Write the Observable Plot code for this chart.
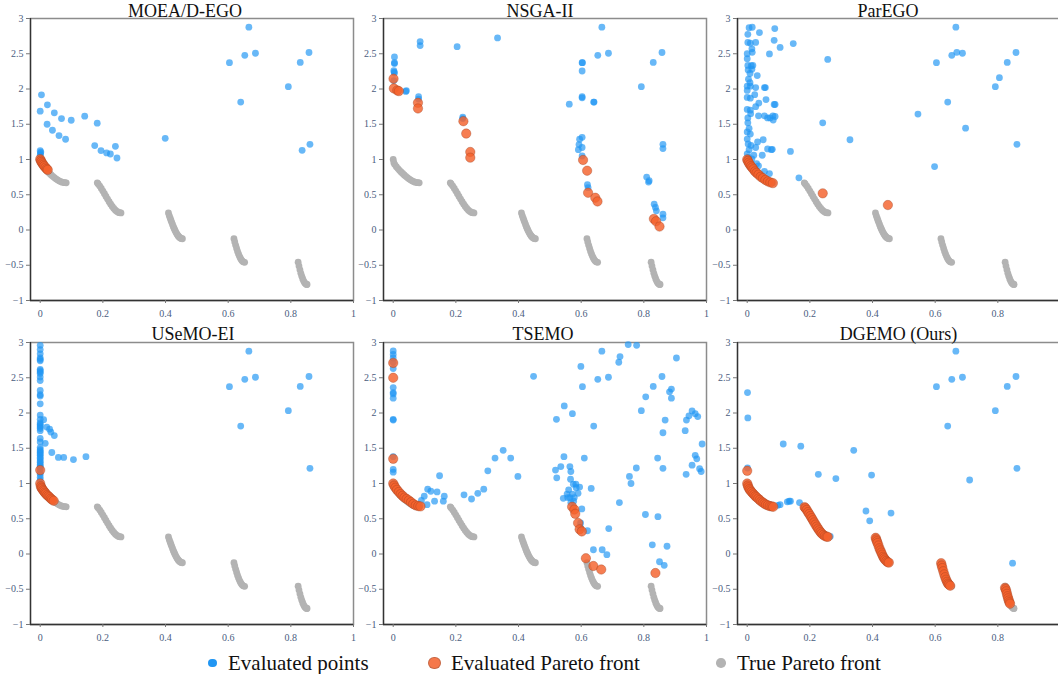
<!DOCTYPE html>
<html>
<head>
<meta charset="utf-8">
<script src="https://cdn.jsdelivr.net/npm/d3@7"></script>
<script src="https://cdn.jsdelivr.net/npm/@observablehq/plot@0.6"></script>
<style>
  html, body { margin: 0; padding: 0; background: #fff; overflow: hidden; }
  #root { position: relative; width: 1058px; height: 674px; overflow: hidden; font-family: "Liberation Serif", "Times New Roman", Times, "DejaVu Serif", serif; }
  #root svg, #root svg text { font-family: "Liberation Serif", "Times New Roman", Times, "DejaVu Serif", serif !important; }
  .panel { position: absolute; }
  .title { position: absolute; font-size: 18px; color: #111; white-space: nowrap; transform: translateX(-50%); line-height: 1; font-family: "Liberation Serif", "Times New Roman", Times, serif; }
  .leg { position: absolute; font-size: 21px; color: #111; white-space: nowrap; line-height: 1; font-family: "Liberation Serif", "Times New Roman", Times, serif; }
  .sw { position: absolute; border-radius: 50%; }
</style>
</head>
<body>
<div id="root"></div>
<script>
// ---------- data ----------
const titles = ["MOEA/D-EGO", "NSGA-II", "ParEGO", "USeMO-EI", "TSEMO", "DGEMO (Ours)"];
const legendLabels = ["Evaluated points", "Evaluated Pareto front", "True Pareto front"];
const xTicks = [0, 0.2, 0.4, 0.6, 0.8, 1];
const xTicksRightColumn = [0, 0.2, 0.4, 0.6, 0.8]; // the "1" label falls outside the picture there
const yTicks = [-1, -0.5, 0, 0.5, 1, 1.5, 2, 2.5, 3];

// True Pareto front (five disconnected pieces), as seen in every panel
const trueFront = [
  [0,1],[0.002,0.955],[0.005,0.9285],[0.01,0.8969],[0.015,0.8707],[0.02,0.8468],[0.025,0.8242],[0.03,0.8025],
  [0.035,0.7817],[0.04,0.762],[0.045,0.7434],[0.05,0.7264],[0.055,0.7112],[0.06,0.698],[0.065,0.6871],
  [0.07,0.6788],[0.075,0.6731],[0.079,0.671],[0.083,0.6695],
  [0.1822,0.6698],[0.185,0.6539],[0.19,0.6228],[0.195,0.5889],[0.2,0.5528],[0.205,0.5151],[0.21,0.4768],
  [0.215,0.4387],[0.22,0.4017],[0.225,0.3666],[0.23,0.3343],[0.235,0.3058],[0.24,0.2818],[0.245,0.263],
  [0.25,0.25],[0.2535,0.2455],[0.2578,0.2423],
  [0.4093,0.2424],[0.412,0.2032],[0.415,0.1674],[0.4175,0.1358],[0.42,0.105],[0.4225,0.0756],[0.425,0.0476],
  [0.4275,0.0211],[0.43,-0.0036],[0.4325,-0.0264],[0.435,-0.0471],[0.4375,-0.0656],[0.44,-0.0818],
  [0.4425,-0.0955],[0.445,-0.1066],[0.4475,-0.1151],[0.45,-0.1208],[0.4539,-0.1238],
  [0.6184,-0.1243],[0.621,-0.1686],[0.624,-0.217],[0.627,-0.2621],[0.63,-0.3034],[0.633,-0.3404],
  [0.636,-0.373],[0.639,-0.4006],[0.642,-0.423],[0.645,-0.4402],[0.648,-0.4517],[0.6525,-0.4583],
  [0.8233,-0.4577],[0.826,-0.511],[0.829,-0.5656],[0.832,-0.6146],[0.835,-0.6578],[0.838,-0.6946],
  [0.841,-0.7247],[0.844,-0.7478],[0.847,-0.7636],[0.85,-0.772],[0.8518,-0.7733]
];

// initial samples shared by all methods
const initialPoints = [
  [0.604,2.374],[0.653,2.478],[0.666,2.877],[0.687,2.507],[0.640,1.814],
  [0.792,2.033],[0.830,2.377],[0.858,2.518],[0.861,1.215]
];

const moeadEval = [
  [0.836,1.130],[0.399,1.301],[0.004,1.918],[0,1.686],[0.023,1.776],[0.045,1.662],[0.068,1.581],
  [0.099,1.557],[0.142,1.614],[0.182,1.515],[0.022,1.5],[0.039,1.415],[0.06,1.339],[0.081,1.287],
  [0.174,1.197],[0.194,1.126],[0.212,1.093],[0.224,1.078],[0.24,1.187],[0.245,1.021],
  [0,1.125],[0.002,1.105],[0.001,1.085],[0,1.06]
];
const moeadPareto = [
  [0,1.005],[0.002,0.985],[0.004,0.965],[0.007,0.945],[0.01,0.925],[0.013,0.905],[0.017,0.885],
  [0.021,0.865],[0.024,0.853]
];

const nsgaEval = [
  [0.004,2.454],[0.004,2.374],[0.004,2.36],[0.002,2.26],[0.004,2.226],[0.003,2.24],[0.002,2.12],
  [0.042,1.975],[0.04,1.965],[0.086,2.673],[0.086,2.616],[0.081,1.89],[0.081,1.857],[0.204,2.601],
  [0.333,2.725],[0.222,1.6],[0.222,1.58],[0.562,1.785],[0.603,2.374],[0.603,2.255],[0.603,1.89],
  [0.603,1.875],[0.641,1.814],[0.595,1.287],[0.593,1.211],[0.591,1.14],[0.603,1.315],[0.603,1.17],
  [0.603,1.05],[0.62,0.642],[0.622,0.6],[0.809,0.751],[0.815,0.68],[0.817,0.7],[0.833,0.367],
  [0.837,0.32],[0.84,0.272],[0.861,0.224],[0.861,0.172],[0.861,1.155]
];
const nsgaPareto = [
  [0.001,2.146],[0.002,2.008],[0.013,1.98],[0.018,1.97],[0.079,1.804],[0.079,1.724],[0.224,1.543],
  [0.233,1.368],[0.246,1.107],[0.246,1.026],[0.606,0.993],[0.619,0.841],[0.622,0.528],[0.645,0.457],
  [0.652,0.405],[0.832,0.158],[0.839,0.124],[0.85,0.049]
];

const parEgoEval = [
  [0.002,2.776],[0.006,2.87],[0.016,2.876],[0.039,2.8],[0.088,2.857],[0.086,2.69],[0.105,2.59],
  [0.147,2.644],[0.071,2.497],[0.027,2.66],[0.002,2.66],[0.01,2.65],[0.015,2.57],[0.016,2.52],
  [0,2.5],[0,2.43],[0.002,2.335],[0.003,2.27],[0.013,2.33],[0.018,2.335],[0.015,2.28],[0.032,2.19],
  [0.009,2.22],[0.004,2.14],[0.009,2.09],[0,2.04],[0.01,2.04],[0.027,2.02],[0.055,2.02],[0.058,2.02],
  [0,1.98],[0.024,1.92],[0,1.88],[0.01,1.87],[0.06,1.85],[0.037,1.8],[0.086,1.78],[0.089,1.78],
  [0.027,1.75],[0,1.71],[0.01,1.7],[0.011,1.65],[0.002,1.59],[0.036,1.62],[0.055,1.62],[0.065,1.59],
  [0.073,1.59],[0.082,1.62],[0.083,1.56],[0.089,1.61],[0.002,1.52],[0.006,1.44],[0,1.39],[0.01,1.36],
  [0,1.29],[0.033,1.25],[0.051,1.28],[0.003,1.22],[0.012,1.2],[0.027,1.17],[0.006,1.14],[0.065,1.15],
  [0.077,1.14],[0.08,1.145],[0.048,1.06],[0.021,1.06],[0,1.08],[0.004,1.03],[0.015,1.01],[0.138,1.115],
  [0.03,0.94],[0.036,0.91],[0.055,0.83],[0.071,0.8],[0.165,0.74],[0.241,1.52],[0.328,1.28],
  [0.257,2.42],[0.545,1.645],[0.598,0.9],[0.805,2.16],[0.697,1.445],[0.669,2.52]
];
const parEgoPareto = [
  [0,1.0],[0.002,0.98],[0.005,0.955],[0.008,0.93],[0.012,0.905],[0.016,0.885],[0.02,0.86],[0.025,0.83],
  [0.03,0.81],[0.036,0.785],[0.043,0.755],[0.05,0.735],[0.058,0.71],[0.066,0.69],[0.074,0.675],
  [0.082,0.665],[0.241,0.52],[0.449,0.354]
];

const usemoEval = [
  [0,2.96],[0,2.9],[0,2.84],[0,2.78],[0,2.76],[0,2.74],[0,2.62],[0,2.6],[0,2.58],[0,2.56],[0,2.51],
  [0,2.46],[0,2.32],[0,2.26],[0,2.24],[0,2.13],[0,1.97],[0,1.91],[0,1.86],[0,1.84],[0,1.82],[0,1.8],
  [0,1.78],[0,1.75],[0,1.64],[0,1.59],[0,1.51],[0,1.48],[0,1.46],[0,1.44],[0,1.42],[0,1.4],[0,1.37],
  [0,1.35],[0,1.32],[0,1.3],[0,1.27],[0,1.25],[0,1.23],[0,1.2],[0,1.16],[0,1.13],[0,1.09],[0,1.05],
  [0.011,1.905],[0.021,1.8],[0.03,1.77],[0.034,1.73],[0.045,1.68],[0.016,1.57],[0.037,1.44],
  [0.058,1.37],[0.075,1.37],[0.106,1.34],[0.146,1.38]
];
const usemoPareto = [
  [0,1.19],[0,1.0],[0.002,0.96],[0.004,0.94],[0.006,0.925],[0.009,0.905],[0.012,0.89],[0.015,0.87],
  [0.018,0.855],[0.022,0.835],[0.026,0.82],[0.03,0.805],[0.034,0.785],[0.038,0.77],[0.043,0.755]
];

const tsemoEval = [
  [0,2.88],[0,2.83],[0,2.78],[0,2.72],[0,2.63],[0,2.36],[0,2.29],[0,2.27],[0,2.21],[0,1.91],[0,1.9],
  [0,1.38],[0,1.2],[0,1.16],[0.448,2.52],[0.09,0.76],[0.099,0.82],[0.108,0.7],[0.11,0.92],[0.12,0.89],
  [0.132,0.75],[0.14,0.88],[0.148,1.11],[0.16,0.75],[0.163,0.82],[0.226,0.84],[0.25,0.78],[0.27,0.86],
  [0.289,0.92],[0.302,1.18],[0.325,1.36],[0.351,1.47],[0.375,1.36],[0.398,1.1],[0.521,1.91],[0.522,1.08],
  [0.518,1.19],[0.535,1.24],[0.546,2.1],[0.545,1.38],[0.543,0.79],[0.555,0.85],[0.56,0.91],[0.564,1.24],
  [0.567,1.17],[0.566,1.06],[0.572,1.99],[0.575,0.99],[0.583,0.99],[0.584,0.94],[0.572,0.85],[0.578,0.8],
  [0.564,0.8],[0.557,0.8],[0.576,0.75],[0.567,0.73],[0.59,0.86],[0.595,0.95],[0.598,0.44],[0.599,2.66],
  [0.61,1.36],[0.602,0.64],[0.598,0.37],[0.62,0.33],[0.632,0.93],[0.639,0.06],[0.667,0.06],[0.682,-0.01],
  [0.688,0.36],[0.722,0.73],[0.72,2.72],[0.724,2.8],[0.75,2.97],[0.777,2.96],[0.754,1.1],[0.759,1.0],
  [0.776,1.22],[0.806,2.23],[0.805,0.56],[0.827,0.13],[0.844,1.36],[0.845,0.53],[0.861,1.72],[0.868,1.9],
  [0.85,-0.11],[0.865,-0.16],[0.874,0.11],[0.882,2.3],[0.888,2.34],[0.888,2.21],[0.904,2.78],[0.932,1.75],
  [0.936,1.9],[0.935,1.13],[0.944,1.96],[0.954,2.03],[0.964,1.99],[0.972,1.95],[0.954,1.26],[0.964,1.4],
  [0.969,1.35],[0.978,1.21],[0.983,1.17],[0.986,1.56]
];
const tsemoPareto = [
  [0,2.71],[0,2.5],[0,1.35],[0,1.0],[0.003,0.97],[0.007,0.94],[0.012,0.91],[0.018,0.88],[0.024,0.85],
  [0.03,0.825],[0.036,0.8],[0.043,0.78],[0.05,0.76],[0.057,0.735],[0.064,0.71],[0.072,0.69],[0.08,0.68],
  [0.087,0.675],[0.571,0.67],[0.578,0.63],[0.581,0.57],[0.59,0.44],[0.595,0.35],[0.602,0.32],
  [0.615,-0.06],[0.639,-0.17],[0.664,-0.22],[0.837,-0.27]
];

const dgemoEval = [
  [0.001,2.29],[0.002,1.93],[0.001,1.22],[0.115,1.56],[0.171,1.53],[0.227,1.13],[0.283,1.07],[0.34,1.47],
  [0.379,0.61],[0.391,0.47],[0.397,1.12],[0.459,0.58],[0.098,0.69],[0.105,0.7],[0.128,0.74],[0.134,0.75],
  [0.138,0.75],[0.167,0.73],[0.265,0.25],[0.71,1.05],[0.847,-0.13]
];
const dgemoPareto = [
  [0,1.18],
  [0,1.0],[0.002,0.97],[0.004,0.945],[0.007,0.92],[0.01,0.9],[0.014,0.88],[0.018,0.86],[0.022,0.84],
  [0.026,0.82],[0.03,0.805],[0.035,0.785],[0.04,0.765],[0.045,0.745],[0.05,0.73],[0.055,0.715],[0.06,0.7],
  [0.066,0.69],[0.072,0.68],[0.078,0.675],[0.083,0.67],
  [0.183,0.665],[0.186,0.65],[0.19,0.625],[0.194,0.595],[0.198,0.568],[0.202,0.538],[0.206,0.508],
  [0.21,0.478],[0.214,0.447],[0.218,0.417],[0.222,0.388],[0.226,0.36],[0.23,0.335],[0.234,0.31],
  [0.238,0.29],[0.243,0.27],[0.248,0.255],[0.253,0.247],[0.257,0.243],
  [0.41,0.23],[0.412,0.205],[0.414,0.18],[0.416,0.155],[0.419,0.12],[0.422,0.08],[0.425,0.05],[0.428,0.02],
  [0.431,-0.01],[0.434,-0.04],[0.437,-0.06],[0.44,-0.08],[0.444,-0.1],[0.448,-0.115],[0.452,-0.122],
  [0.619,-0.13],[0.621,-0.165],[0.623,-0.2],[0.626,-0.245],[0.629,-0.29],[0.632,-0.33],[0.635,-0.365],
  [0.638,-0.395],[0.641,-0.42],[0.644,-0.435],[0.648,-0.45],
  [0.823,-0.48],[0.825,-0.5],[0.827,-0.53],[0.829,-0.565],[0.831,-0.6],[0.833,-0.63],[0.835,-0.66],
  [0.837,-0.685],[0.839,-0.705]
];

// ---------- drawing ----------
const SERIF = "'Liberation Serif', 'Times New Roman', Times, 'DejaVu Serif', serif";
const BLUE = "#2196f3", ORANGE = "#f4612c", GRAY = "#b3b3b3";
const panelsData = [
  [moeadEval, moeadPareto], [nsgaEval, nsgaPareto], [parEgoEval, parEgoPareto],
  [usemoEval, usemoPareto], [tsemoEval, tsemoPareto], [dgemoEval, dgemoPareto]
];
const frameLefts = [29.5, 382.5, 736.5];
const frameTops = [18, 342];
const titleCenters = [185, 540, 888, 193, 543, 898.5];
const titleBaselines = [15.5, 339];
const ML = 32, MR = 4, MT = 4, MB = 24, FW = 323, FH = 282;
const X0 = -0.031;

const fmtY = d => d < 0 ? "\u2212" + (-d) : String(d);
const root = document.getElementById("root");

panelsData.forEach(([ev, par], i) => {
  const col = i % 3, row = Math.floor(i / 3);
  const chart = Plot.plot({
    width: ML + FW + MR,
    height: MT + FH + MB,
    marginLeft: ML, marginRight: MR, marginTop: MT, marginBottom: MB,
    style: {fontFamily: SERIF, fontSize: "10px", background: "transparent", overflow: "visible"},
    x: {domain: [X0, 1]},
    y: {domain: [-1, 3]},
    marks: [
      Plot.frame({stroke: "#8c8c8c", strokeWidth: 1.5}),
      Plot.dot(trueFront, {x: d => d[0], y: d => d[1], r: 3.4, fill: GRAY, stroke: "none"}),
      Plot.dot(initialPoints.concat(ev), {x: d => d[0], y: d => d[1], r: 3.4, fill: BLUE, fillOpacity: 0.68, stroke: "none"}),
      Plot.dot(par, {x: d => d[0], y: d => d[1], r: 4.7, fill: ORANGE, fillOpacity: 0.82, stroke: "#9a3f1f", strokeOpacity: 0.45, strokeWidth: 0.8}),
      Plot.ruleX([X0], {stroke: "#333", strokeWidth: 1.3}),
      Plot.ruleY([-1], {stroke: "#333", strokeWidth: 1.3}),
      Plot.axisX({ticks: col === 2 ? xTicksRightColumn : xTicks, tickFormat: d => String(d), tickSize: 3, tickPadding: 6, stroke: "#777", fill: "#4a5d80", label: null, fontFamily: SERIF}),
      Plot.axisY({ticks: yTicks, tickFormat: fmtY, tickSize: 4, tickPadding: 3, stroke: "#777", fill: "#4a5d80", label: null, fontFamily: SERIF})
    ]
  });
  chart.classList.add("panel");
  chart.style.left = (frameLefts[col] - ML) + "px";
  chart.style.top = (frameTops[row] - MT) + "px";
  root.appendChild(chart);

  const t = document.createElement("div");
  t.className = "title";
  t.textContent = titles[i];
  t.style.left = titleCenters[i] + "px";
  t.style.top = (titleBaselines[row] - 14) + "px";
  root.appendChild(t);
});

// legend
const legendItems = [
  {cx: 212.7, r: 4.3, fill: BLUE, op: 1, stroke: "none", tx: 228},
  {cx: 434.5, r: 6.2, fill: ORANGE, op: 0.85, stroke: "#9a3f1f", tx: 451},
  {cx: 721, r: 4.8, fill: GRAY, op: 1, stroke: "none", tx: 737}
];
legendItems.forEach((it, k) => {
  const s = document.createElement("div");
  s.className = "sw";
  s.style.left = (it.cx - it.r) + "px";
  s.style.top = (663 - it.r) + "px";
  s.style.width = (2 * it.r) + "px";
  s.style.height = (2 * it.r) + "px";
  s.style.background = it.fill;
  s.style.opacity = it.op;
  if (it.stroke !== "none") { s.style.boxSizing = "border-box"; s.style.border = "0.8px solid rgba(154,63,31,0.6)"; }
  root.appendChild(s);
  const l = document.createElement("div");
  l.className = "leg";
  l.textContent = legendLabels[k];
  l.style.left = it.tx + "px";
  l.style.top = (670 - 17) + "px";
  root.appendChild(l);
});
</script>
</body>
</html>
